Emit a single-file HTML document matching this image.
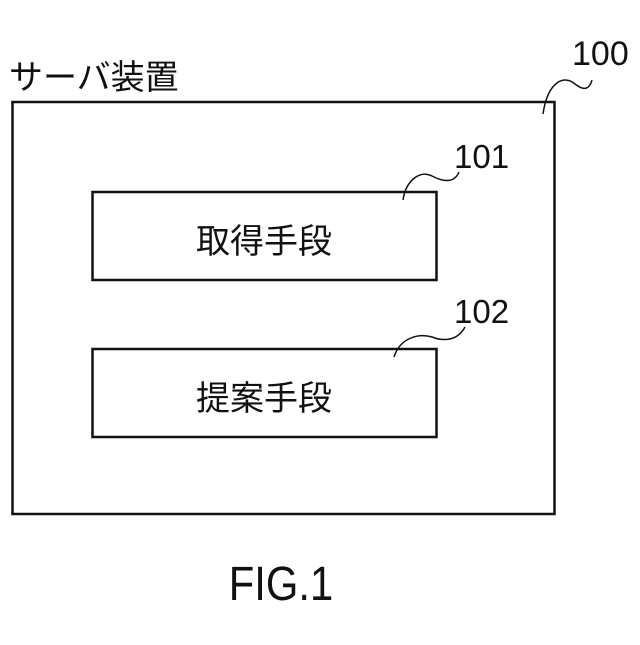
<!DOCTYPE html>
<html><head><meta charset="utf-8"><style>
body{margin:0;background:#fff}
svg text{font-family:"Liberation Sans","Noto Sans CJK JP",sans-serif;fill:#111}
</style></head><body>
<svg width="640" height="640" viewBox="0 0 640 640" xmlns="http://www.w3.org/2000/svg">
<rect x="12.5" y="102" width="542" height="412" fill="none" stroke="#111" stroke-width="2.5"/>
<rect x="92.5" y="192" width="344" height="88" fill="none" stroke="#111" stroke-width="2.5"/>
<rect x="92.5" y="349" width="344" height="88" fill="none" stroke="#111" stroke-width="2.5"/>
<text x="9" y="89" font-size="34">サーバ装置</text>
<text x="572" y="65" font-size="34">100</text>
<text x="454" y="168" font-size="33">101</text>
<text x="454" y="323" font-size="33">102</text>
<text x="264" y="253" font-size="34" text-anchor="middle">取得手段</text>
<text x="264" y="410" font-size="34" text-anchor="middle">提案手段</text>
<text x="281" y="600" font-size="48" text-anchor="middle" transform="scale(0.87,1)" transform-origin="281 600">FIG.1</text>
<path d="M543,114 C548,80 565,75 575,84 C585,92 590,88 592,80" fill="none" stroke="#111" stroke-width="1.5"/>
<path d="M403,200 C406,180 420,170 432,176 C445,183 455,182 459,172" fill="none" stroke="#111" stroke-width="1.5"/>
<path d="M394,357 C400,338 418,333 432,337 C445,342 458,340 465,327" fill="none" stroke="#111" stroke-width="1.5"/>
</svg>
</body></html>
